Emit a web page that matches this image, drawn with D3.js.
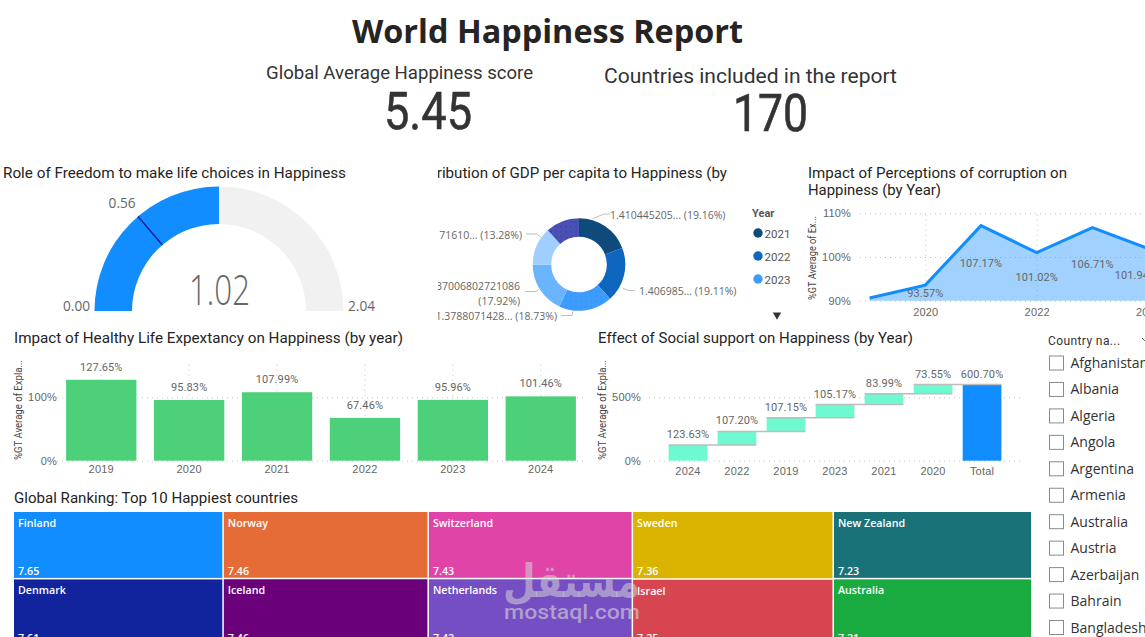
<!DOCTYPE html>
<html lang="en">
<head>
  <meta charset="UTF-8">
  <title>World Happiness Report</title>
  <script src="https://d3js.org/d3.v7.min.js"></script>
  <style>
    html, body { margin: 0; background: #fff; overflow: hidden; }
    svg { display: block; font-family: Roboto, sans-serif; }
    .grid line { stroke: #c4c4c4; stroke-dasharray: 1 4; }
    .grid .domain { display: none; }
    .grid text { fill: #666; font-size: 11px; letter-spacing: 0.2px; }
    .value { fill: #666; font-size: 11px; text-anchor: middle; letter-spacing: 0.1px; }
    .title { fill: #252423; font-size: 14px; }
    .ytitle { fill: #444; font-size: 10px; text-anchor: middle; }
    .donut { fill: #666; font-size: 10.5px; font-family: "Open Sans", sans-serif; }
    .slicer { fill: #333; font-size: 14px; font-family: "Open Sans", sans-serif; }
    .cell { fill: #fff; font-size: 10.7px; font-family: "Open Sans", sans-serif; font-weight: 600; }
  </style>
</head>
<body>
<svg width="1145" height="637" viewBox="0 0 1145 637"></svg>
<script>
  // values
  const avgScore = "5.45";
  const countryCount = "170";

  const gaugeValue = 1.02;
  const gaugeTarget = 0.56;
  const gaugeMax = 2.04;

  const gdpShares = [19.16, 19.11, 18.73, 17.92, 13.28, 11.80];
  const gdpColors = ["#0e4a7c", "#0f66bf", "url(#dots1)", "url(#dots2)", "#a0cfff", "url(#dots3)"];
  const legendYears = ["2021", "2022", "2023"];
  const legendColors = ["#0e4a7c", "#0f66bf", "#3f9cff"];

  const corruptionYears = [2019, 2020, 2021, 2022, 2023, 2024];
  const corruptionValues = [90.6, 93.57, 107.17, 101.02, 106.71, 101.94];

  const healthYears = ["2019", "2020", "2021", "2022", "2023", "2024"];
  const healthValues = [127.65, 95.83, 107.99, 67.46, 95.96, 101.46];

  const socialYears = ["2024", "2022", "2019", "2023", "2021", "2020"];
  const socialValues = [123.63, 107.20, 107.15, 105.17, 83.99, 73.55];
  const socialTotal = 600.70;

  const topCountries = ["Finland", "Denmark", "Norway", "Iceland", "Switzerland", "Netherlands", "Sweden", "Israel", "New Zealand", "Australia"];
  const topScores = [7.65, 7.61, 7.46, 7.46, 7.43, 7.42, 7.36, 7.25, 7.23, 7.21];
  const topColors = ["#118dff", "#12239e", "#e66c37", "#6b007b", "#e044a7", "#744ec2", "#d9b300", "#d64550", "#197278", "#1aab40"];

  const slicerCountries = ["Afghanistan", "Albania", "Algeria", "Angola", "Argentina", "Armenia", "Australia", "Austria", "Azerbaijan", "Bahrain", "Bangladesh"];

  const svg = d3.select("svg");
  const defs = svg.append("defs");

  // writes a text, optionally squeezed to the width it has in the report
  function label(parent, x, y, str, cls, width) {
    const t = parent.append("text").attr("x", x).attr("y", y).attr("class", cls || null).text(str);
    if (width) t.attr("textLength", width).attr("lengthAdjust", "spacingAndGlyphs");
    return t;
  }

  function dotPattern(id, base, dot) {
    const p = defs.append("pattern").attr("id", id).attr("width", 5).attr("height", 5).attr("patternUnits", "userSpaceOnUse");
    p.append("rect").attr("width", 5).attr("height", 5).attr("fill", base);
    p.append("circle").attr("cx", 2).attr("cy", 2).attr("r", 0.5).attr("fill", dot);
  }
  dotPattern("dots1", "#3f9cff", "#1f7be0");
  dotPattern("dots2", "#6bb5ff", "#58a6f5");
  dotPattern("dots3", "#4b50b5", "#23277f");

  // header
  label(svg, 352, 43, "World Happiness Report", null, 391)
    .attr("font-family", "'Open Sans', sans-serif").attr("font-weight", 700).attr("font-size", 33).attr("fill", "#252423");
  label(svg, 266, 79, "Global Average Happiness score", null, 267).attr("font-size", 18).attr("fill", "#333");
  label(svg, 604, 83, "Countries included in the report", null, 293).attr("font-size", 19.5).attr("fill", "#333");
  label(svg, 384, 129, avgScore, null, 88).attr("font-size", 52).attr("fill", "#333").attr("stroke", "#333").attr("stroke-width", 0.6);
  label(svg, 733, 131, countryCount, null, 75).attr("font-size", 52).attr("fill", "#333").attr("stroke", "#333").attr("stroke-width", 0.6);

  // gauge
  label(svg, 3, 178, "Role of Freedom to make life choices in Happiness", "title", 343);
  const gauge = svg.append("g").attr("transform", "translate(219,311)");
  const gaugeAngle = d3.scaleLinear().domain([0, gaugeMax]).range([-Math.PI / 2, Math.PI / 2]);
  const gaugeArc = d3.arc().innerRadius(87).outerRadius(124.5);
  gauge.append("path").attr("fill", "#f1f1f1")
    .attr("d", gaugeArc({startAngle: gaugeAngle(0), endAngle: gaugeAngle(gaugeMax)}));
  gauge.append("path").attr("fill", "#118dff")
    .attr("d", gaugeArc({startAngle: gaugeAngle(0), endAngle: gaugeAngle(gaugeValue)}));
  const ta = gaugeAngle(gaugeTarget);
  gauge.append("line").attr("stroke", "#12239e").attr("stroke-width", 1.5)
    .attr("x1", 87 * Math.sin(ta)).attr("y1", -87 * Math.cos(ta))
    .attr("x2", 124.5 * Math.sin(ta)).attr("y2", -124.5 * Math.cos(ta));
  function gaugeLabel(x, y, str, width, size, weight) {
    return label(gauge, x, y, str, null, width).attr("fill", "#666").attr("font-size", size)
      .attr("font-family", "'Open Sans', sans-serif").attr("font-weight", weight);
  }
  gaugeLabel(142 * Math.sin(ta) - 18, -142 * Math.cos(ta) + 5, gaugeTarget.toFixed(2), 27, 15, 400);
  gaugeLabel(-156, 0, "0.00", 27, 15, 400);
  gaugeLabel(129, 0, gaugeMax.toFixed(2), 27, 15, 400);
  gaugeLabel(-30, -6, gaugeValue.toFixed(2), 61, 42, 300);

  // donut
  defs.append("clipPath").attr("id", "donutClip").append("rect").attr("x", 438).attr("y", 160).attr("width", 362).attr("height", 170);
  const donutBox = svg.append("g").attr("clip-path", "url(#donutClip)");
  label(donutBox, 405, 178, "Contribution of GDP per capita to Happiness (by", "title", 322);
  const donut = donutBox.append("g").attr("transform", "translate(579,264.5)");
  const pie = d3.pie().sort(null)(gdpShares);
  const donutArc = d3.arc().innerRadius(27.8).outerRadius(46.3);
  donut.selectAll("path.slice").data(pie).enter().append("path")
    .attr("class", "slice").attr("d", donutArc).attr("fill", (d, i) => gdpColors[i]);

  // labels sit at hand-placed elbows around the ring, as in the report
  const leaders = [
    {pts: [[14, -46], [25, -50.5], [31, -50.5]], lines: ["1.410445205... (19.16%)"], x: 31, y: -46, anchor: "start"},
    {pts: [[44, 24], [50, 26], [56, 26]], lines: ["1.406985... (19.11%)"], x: 60, y: 30.5, anchor: "start"},
    {pts: [[-6, 47], [-7, 51], [-18, 51]], lines: ["1.3788071428... (18.73%)"], x: -22, y: 55, anchor: "end"},
    {pts: [[-40, 25], [-43, 27], [-54, 27]], lines: ["1.5037006802721086", "(17.92%)"], x: -59, y: 25.5, anchor: "end"},
    {pts: [[-38, -27], [-42, -30.5], [-53, -30.5]], lines: ["1.0171610... (13.28%)"], x: -57, y: -26, anchor: "end"}
  ];
  donut.selectAll("polyline").data(leaders).enter().append("polyline")
    .attr("points", d => d.pts.join(" ")).attr("fill", "none").attr("stroke", "#bdbdbd");
  leaders.forEach(d => d.lines.forEach((s, i) =>
    label(donut, d.x, d.y + i * 14.5, s, "donut").attr("text-anchor", d.anchor)));

  const legend = svg.append("g");
  label(legend, 752, 217, "Year").attr("font-size", 11).attr("font-weight", 700).attr("fill", "#555");
  legendYears.forEach((y, i) => {
    const cy = 233 + i * 23;
    legend.append("circle").attr("cx", 758).attr("cy", cy).attr("r", 4.7).attr("fill", legendColors[i]);
    label(legend, 764.5, cy + 4.5, y).attr("font-size", 11.5).attr("fill", "#555");
  });
  legend.append("path").attr("d", d3.symbol(d3.symbolTriangle, 30)()).attr("fill", "#333")
    .attr("transform", "translate(777,315) rotate(180)");

  // corruption area
  label(svg, 808, 178, "Impact of Perceptions of corruption on", "title", 259);
  label(svg, 808, 195, "Happiness (by Year)", "title", 133);
  const cx = d3.scaleLinear().domain([2020, 2022]).range([925.3, 1036.7]);
  const cy = d3.scaleLinear().domain([90, 110]).range([300.7, 213.3]);
  svg.append("g").attr("class", "grid").attr("transform", "translate(860,0)")
    .call(d3.axisLeft(cy).tickValues([90, 100, 110]).tickSize(-285).tickPadding(9).tickFormat(d => d + "%"));
  svg.append("g").attr("class", "grid").attr("transform", "translate(0,300.7)")
    .call(d3.axisBottom(cx).tickValues([2020, 2022, 2024]).tickSize(-88).tickPadding(8).tickFormat(d3.format("d")));
  label(svg, 0, 0, "%GT Average of Ex...", "ytitle", 84)
    .attr("transform", "translate(816,258) rotate(-90)");
  const corruption = corruptionYears.map((y, i) => [y, corruptionValues[i]]);
  svg.append("path").datum(corruption).attr("fill", "#118dff").attr("fill-opacity", 0.4)
    .attr("d", d3.area().x(d => cx(d[0])).y0(cy(90)).y1(d => cy(d[1])));
  svg.append("path").datum(corruption).attr("fill", "none").attr("stroke", "#118dff").attr("stroke-width", 3)
    .attr("d", d3.line().x(d => cx(d[0])).y(d => cy(d[1])));
  // labels sit halfway down the area; the last one is pulled back from the edge
  corruption.slice(1).forEach(d =>
    label(svg, Math.min(cx(d[0]), 1136), (cy(d[1]) + cy(90)) / 2 + 4, d[1].toFixed(2) + "%", "value"));

  // healthy life bars
  label(svg, 14, 343, "Impact of Healthy Life Expextancy on Happiness (by year)", "title", 389);
  const hx = d3.scaleBand().domain(healthYears).range([57.3, 584.7]).paddingInner(0.2).paddingOuter(0.1);
  const hy = d3.scaleLinear().domain([0, 100]).range([460.7, 397.3]);
  svg.append("g").attr("class", "grid").attr("transform", "translate(57,0)")
    .call(d3.axisLeft(hy).tickValues([0, 100]).tickSize(-528).tickPadding(0).tickFormat(d => d + "%"));
  svg.append("g").attr("class", "grid").attr("transform", "translate(0,460.7)")
    .call(d3.axisBottom(hx).tickSize(-100).tickPadding(5));
  label(svg, 0, 0, "%GT Average of Expla...", "ytitle", 100)
    .attr("transform", "translate(22,410) rotate(-90)");
  svg.selectAll("rect.hbar").data(healthValues).enter().append("rect")
    .attr("class", "hbar").attr("fill", "#4dd07a")
    .attr("x", (d, i) => hx(healthYears[i])).attr("width", hx.bandwidth())
    .attr("y", d => hy(d)).attr("height", d => hy(0) - hy(d));
  healthValues.forEach((d, i) =>
    label(svg, hx(healthYears[i]) + hx.bandwidth() / 2, hy(d) - 9, d.toFixed(2) + "%", "value"));

  // social support waterfall
  label(svg, 598, 343, "Effect of Social support on Happiness (by Year)", "title", 315);
  const wx = d3.scaleBand().domain([...socialYears, "Total"]).range([649, 1021]).paddingInner(0.21).paddingOuter(0.4);
  const wy = d3.scaleLinear().domain([0, 500]).range([460.7, 397.3]);
  svg.append("g").attr("class", "grid").attr("transform", "translate(649,0)")
    .call(d3.axisLeft(wy).tickValues([0, 500]).tickSize(-372).tickPadding(8).tickFormat(d => d + "%"));
  svg.append("g").attr("class", "grid xonly").attr("transform", "translate(0,460.7)")
    .call(d3.axisBottom(wx).tickSize(0).tickPadding(7));
  label(svg, 0, 0, "%GT Average of Expla...", "ytitle", 100)
    .attr("transform", "translate(606,410) rotate(-90)");
  let running = 0;
  const steps = socialValues.map((v, i) => {
    const s = {key: socialYears[i], from: running, to: running + v, v};
    running += v;
    return s;
  });
  steps.push({key: "Total", from: 0, to: socialTotal, v: socialTotal});
  svg.selectAll("rect.wbar").data(steps).enter().append("rect")
    .attr("class", "wbar").attr("fill", d => d.key === "Total" ? "#118dff" : "#6ff9d0")
    .attr("x", d => wx(d.key)).attr("width", wx.bandwidth())
    .attr("y", d => wy(d.to)).attr("height", d => wy(d.from) - wy(d.to));
  // connectors run over the bar edges
  steps.slice(0, -1).forEach((s, i) => {
    svg.append("line").attr("stroke", "#bdbdbd").attr("stroke-width", 1.5)
      .attr("x1", wx(s.key)).attr("x2", wx(steps[i + 1].key) + wx.bandwidth())
      .attr("y1", wy(s.to)).attr("y2", wy(s.to));
  });
  steps.forEach(s =>
    label(svg, wx(s.key) + wx.bandwidth() / 2, wy(s.to) - 7, s.v.toFixed(2) + "%", "value"));

  // treemap, two countries per column
  label(svg, 14, 503, "Global Ranking: Top 10 Happiest countries", "title", 284);
  const columns = d3.range(0, topCountries.length, 2).map(i => ({
    children: [i, i + 1].map(j => ({name: topCountries[j], value: topScores[j], color: topColors[j]}))
  }));
  const root = d3.hierarchy({children: columns}).sum(d => d.value || 0);
  d3.treemap()
    .tile((node, x0, y0, x1, y1) => (node.depth === 0 ? d3.treemapDice : d3.treemapSlice)(node, x0, y0, x1, y1))
    .size([1017, 133])
    .paddingInner(1.5)(root);
  const tree = svg.append("g").attr("transform", "translate(14,512)");
  const cells = tree.selectAll("g.tile").data(root.leaves()).enter().append("g").attr("class", "tile");
  cells.append("rect").attr("fill", d => d.data.color)
    .attr("x", d => d.x0).attr("y", d => d.y0)
    .attr("width", d => d.x1 - d.x0).attr("height", d => d.y1 - d.y0);
  cells.each(function(d) {
    const g = d3.select(this);
    label(g, d.x0 + 4, d.y0 + 15, d.data.name, "cell");
    label(g, d.x0 + 4, d.y1 - 3, d.data.value.toFixed(2), "cell");
  });

  // watermark
  label(svg, 503, 597, "مستقل", null, 137).attr("font-size", 46).attr("font-weight", 700)
    .attr("font-family", "'DejaVu Sans', sans-serif").attr("fill", "rgba(215,215,215,0.55)");
  label(svg, 504, 619, "mostaql.com", null, 136).attr("font-size", 21).attr("font-weight", 500).attr("fill", "rgba(215,215,215,0.6)");

  // slicer
  label(svg, 1048, 345, "Country na...").attr("font-size", 12).attr("letter-spacing", 0.4).attr("fill", "#333");
  svg.append("polyline").attr("points", "1142,338 1145,341").attr("stroke", "#666").attr("fill", "none");
  const rowY = d3.scaleLinear().domain([0, 10]).range([363, 627.5]);
  slicerCountries.forEach((c, i) => {
    svg.append("rect").attr("x", 1049.5).attr("y", rowY(i) - 7).attr("width", 14).attr("height", 14)
      .attr("fill", "#fff").attr("stroke", "#8a8a8a");
    label(svg, 1070.5, rowY(i) + 5, c, "slicer");
  });
</script>
</body>
</html>
